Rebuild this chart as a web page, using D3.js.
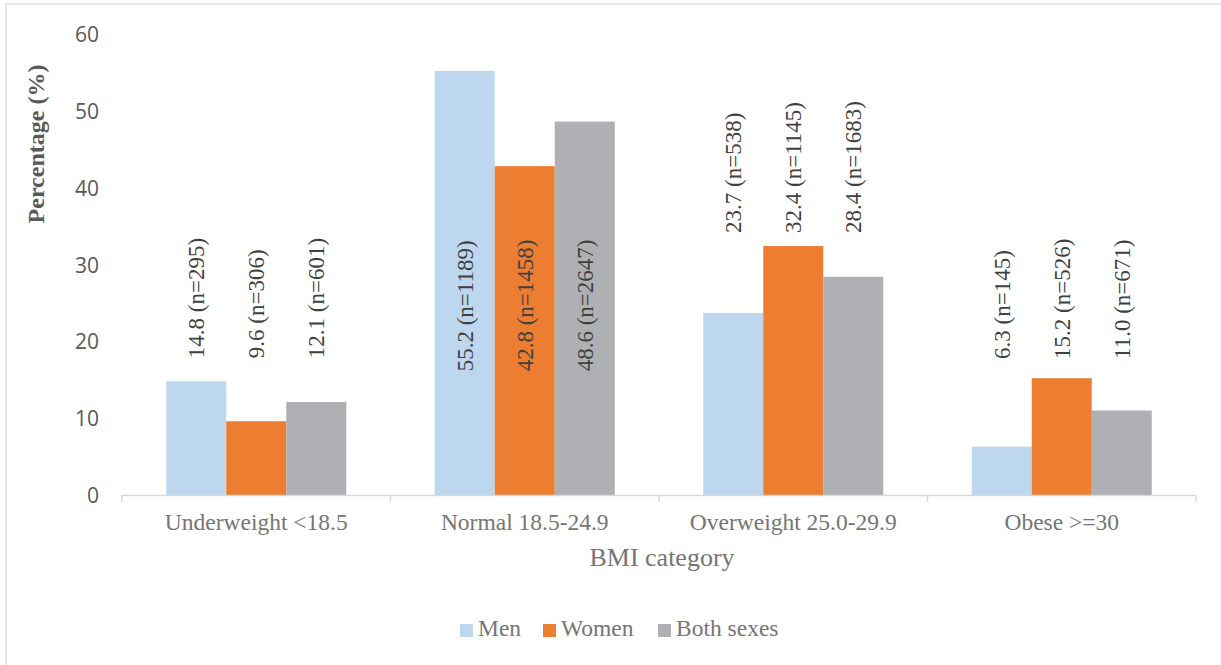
<!DOCTYPE html>
<html><head><meta charset="utf-8">
<script src="https://cdn.jsdelivr.net/npm/d3@7"></script>
<style>
body{margin:0;background:#fff;overflow:hidden}
.serif{font-family:"Liberation Serif","Times New Roman",Tinos,Times,serif}
.sans{font-family:"Open Sans",sans-serif}
</style>
</head><body>
<svg id="c" width="1221" height="665"></svg>
<script>
// ---- data ----
const categories = ["Underweight <18.5", "Normal 18.5-24.9", "Overweight 25.0-29.9", "Obese >=30"];
const seriesNames = ["Men", "Women", "Both sexes"];
const menValues = [14.8, 55.2, 23.7, 6.3];
const womenValues = [9.6, 42.8, 32.4, 15.2];
const bothValues = [12.1, 48.6, 28.4, 11.0];
const menN = [295, 1189, 538, 145];
const womenN = [306, 1458, 1145, 526];
const bothN = [601, 2647, 1683, 671];
const yTicks = [0, 10, 20, 30, 40, 50, 60];

// ---- layout / style ----
const colors = ["#BDD7EE", "#ED7D31", "#AFB0B3"];
const labelBase = [17.8, 16.1, 34.1, 17.7]; // where each group's rotated labels start (axis units)
const W = 1221, H = 665;
const plot = {left: 122, right: 1196, top: 34, bottom: 495};

const svg = d3.select("#c");
svg.append("rect").attr("x", 6).attr("y", 4).attr("width", W + 10).attr("height", H + 10)
  .attr("fill", "#fff").attr("stroke", "#D9D9D9").attr("stroke-width", 1.3);

const y = d3.scaleLinear().domain([0, 60]).range([plot.bottom, plot.top]);
const x0 = d3.scaleBand().domain(categories).range([plot.left, plot.right]).padding(0);
const bw = x0.bandwidth();
const groupW = 180;
const x1 = d3.scaleBand().domain(seriesNames).range([(bw - groupW) / 2, (bw + groupW) / 2]).padding(0);

const seriesVals = [menValues, womenValues, bothValues];
const seriesN = [menN, womenN, bothN];

// y axis tick labels
const yAxis = d3.axisLeft(y).tickValues(yTicks).tickSize(0).tickPadding(0);
const gy = svg.append("g").attr("transform", `translate(99,0)`).call(yAxis);
gy.select(".domain").remove();
gy.attr("font-family", null).attr("font-size", null);
gy.selectAll("text").attr("class", "sans").style("font-size", "21px")
  .attr("fill", "#595959").attr("dy", "0.36em").attr("x", 0);

// bars
seriesNames.forEach((s, si) => {
  svg.append("g").selectAll("rect").data(categories).join("rect")
    .attr("x", c => x0(c) + x1(s))
    .attr("y", (c, i) => y(seriesVals[si][i]))
    .attr("width", x1.bandwidth())
    .attr("height", (c, i) => y(0) - y(seriesVals[si][i]))
    .attr("fill", colors[si]);
});

// x axis
const gx = svg.append("g").attr("transform", `translate(0,${plot.bottom})`);
gx.append("line").attr("x1", plot.left).attr("x2", plot.right).attr("y1", 0.5).attr("y2", 0.5)
  .attr("stroke", "#D9D9D9").attr("stroke-width", 1.5);
const boundaries = categories.map(c => x0(c)).concat([plot.right]);
gx.selectAll("line.tk").data(boundaries).join("line").attr("class", "tk")
  .attr("x1", d => d).attr("x2", d => d).attr("y1", 0).attr("y2", 7)
  .attr("stroke", "#D9D9D9").attr("stroke-width", 1.5);
gx.selectAll("text.cat").data(categories).join("text").attr("class", "cat serif")
  .attr("x", c => x0(c) + bw / 2).attr("y", 35)
  .attr("text-anchor", "middle").style("font-size", "23.5px").attr("fill", "#757575").text(c => c);

// value labels (rotated)
seriesNames.forEach((s, si) => {
  svg.append("g").selectAll("text").data(categories).join("text")
    .attr("class", "serif")
    .attr("transform", (c, i) => {
      const cx = x0(c) + x1(s) + x1.bandwidth() / 2;
      return `translate(${cx + 8},${y(labelBase[i])}) rotate(-90)`;
    })
    .attr("text-anchor", "start").style("font-size", "23px").attr("fill", "#404040")
    .text((c, i) => `${seriesVals[si][i].toFixed(1)} (n=${seriesN[si][i]})`);
});

// axis titles
svg.append("text").attr("class", "serif").attr("x", 662).attr("y", 566).attr("text-anchor", "middle")
  .style("font-size", "26px").attr("fill", "#757575").text("BMI category");
svg.append("text").attr("class", "serif").attr("transform", "translate(44,144) rotate(-90)").attr("text-anchor", "middle")
  .style("font-size", "24px").style("font-weight", "bold").attr("fill", "#595959").text("Percentage (%)");

// legend
const legendX = [460, 543, 658];
const lg = svg.append("g");
seriesNames.forEach((s, si) => {
  lg.append("rect").attr("x", legendX[si]).attr("y", 624).attr("width", 13).attr("height", 13).attr("fill", colors[si]);
  lg.append("text").attr("class", "serif").attr("x", legendX[si] + 18).attr("y", 636)
    .style("font-size", "23.5px").attr("fill", "#757575").text(s);
});
</script>
</body></html>
